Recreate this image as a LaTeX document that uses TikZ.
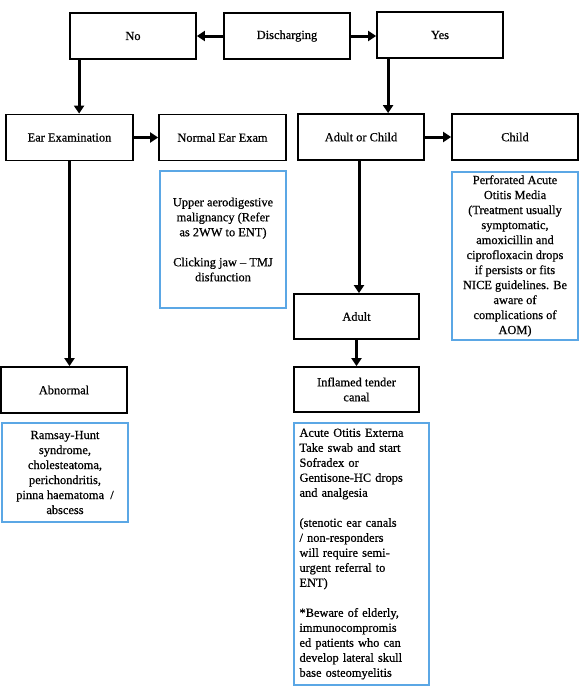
\documentclass[tikz,border=0pt]{standalone}
\usepackage{fontspec}
\setmainfont{Liberation Serif}[FakeBold=0.6]
\usetikzlibrary{arrows.meta,calc}
\definecolor{infoblue}{RGB}{91,167,229}
\begin{document}
\begin{tikzpicture}[x=1pt,y=-1pt,
  font=\fontsize{12.4}{15}\selectfont,
  blackbox/.style={draw=black,line width=1.8pt,minimum width=126pt,minimum height=46pt,inner sep=2pt,align=center},
  bluebox/.style={draw=infoblue,line width=1.8pt,inner sep=2pt,align=center},
  flow/.style={line width=3pt,-{Triangle[length=8pt,width=10pt]}}]
\useasboundingbox (0,0) rectangle (586,688);
% top row
\node[blackbox] (no) at (133,36) {No};
\node[blackbox] (dis) at (287,36) {Discharging};
\node[blackbox] (yes) at (440,35) {Yes};
% second row
\node[blackbox,minimum width=127pt] (ee) at (69.5,137.5) {Ear Examination};
\node[blackbox,minimum width=127pt] (nee) at (222.5,137.5) {Normal Ear Exam};
\node[blackbox] (aoc) at (361,137) {Adult or Child};
\node[blackbox] (child) at (515,137) {Child};
% info boxes
\node[bluebox,minimum width=126pt,minimum height=137pt] (neinfo) at (223,239.5)
  {Upper aerodigestive\\malignancy (Refer\\as 2WW to ENT)\\[15pt]Clicking jaw -- TMJ\\disfunction};
\node[bluebox,minimum width=126pt,minimum height=168pt] (chinfo) at (515,256)
  {Perforated Acute\\Otitis Media\\(Treatment usually\\symptomatic,\\amoxicillin and\\ciprofloxacin drops\\if persists or fits\\NICE guidelines. Be\\aware of\\complications of\\AOM)};
% abnormal
\node[blackbox] (ab) at (64,390) {Abnormal};
\node[bluebox,minimum width=126pt,minimum height=99pt] (abinfo) at (65,472.5)
  {Ramsay-Hunt\\syndrome,\\cholesteatoma,\\perichondritis,\\pinna haematoma~~/\\abscess};
% adult branch
\node[blackbox,minimum width=125pt,minimum height=45pt] (adult) at (356.5,316.5) {Adult};
\node[blackbox,minimum width=125pt,minimum height=45pt] (inf) at (356.5,389.5) {Inflamed tender\\canal};
\node[bluebox,minimum width=135pt,minimum height=262pt,align=left,text width=124pt,inner sep=5pt] (aoe) at (361.5,554)
  {Acute Otitis Externa\\Take swab and start\\Sofradex or\\Gentisone-HC drops\\and analgesia\\[15pt](stenotic ear canals\\/ non-responders\\will require semi-\\urgent referral to\\ENT)\\[15pt]*Beware of elderly,\\immunocompromis\\ed patients who can\\develop lateral skull\\base osteomyelitis};
% connectors
\draw[flow] (dis.west) -- (no.east);
\draw[flow] (dis.east) -- (dis.east -| yes.west);
\draw[flow] ([xshift=10pt]no.south west) -- ([xshift=10pt]no.south west |- ee.north);
\draw[flow] ([xshift=12pt]yes.south west) -- ([xshift=12pt]yes.south west |- aoc.north);
\draw[flow] (ee.east) -- (nee.west);
\draw[flow] (aoc.east) -- (child.west);
\draw[flow] (ee.south) -- (ee.south |- ab.north);
\draw[flow] ([xshift=-2pt]aoc.south) -- ([xshift=-2pt]aoc.south |- adult.north);
\draw[flow] (adult.south) -- (inf.north);
\end{tikzpicture}
\end{document}
